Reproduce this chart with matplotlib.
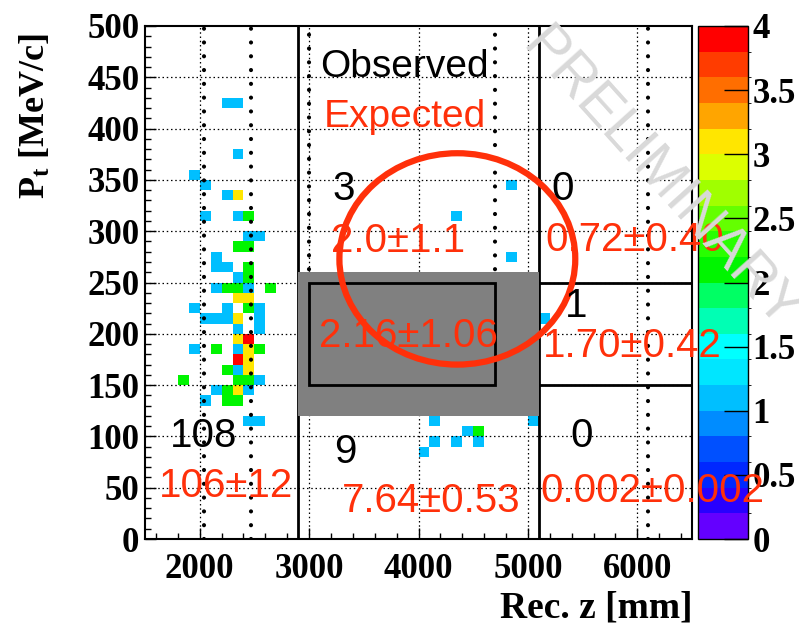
import numpy as np
import matplotlib
matplotlib.use("Agg")
import matplotlib.pyplot as plt
from matplotlib.colors import ListedColormap, BoundaryNorm
from matplotlib.patches import Rectangle, Ellipse

# -----------------------------
# Data: occupied bins (lower bin edge) and event counts
# -----------------------------
cell_z = [2200, 2300, 2300, 1900, 2000, 2200, 2300, 2000, 2300, 2400,
          2400, 2500, 2300, 2400, 2100, 2100, 2200, 2400, 2300, 2400,
          2100, 2200, 2300, 2400, 2600, 2300, 2400, 1900, 2200, 2400,
          2500, 2000, 2100, 2200, 2300, 2500, 2300, 2500, 2300, 2400,
          1900, 2100, 2300, 2400, 2500, 2300, 2400, 2200, 2300, 2400,
          1800, 2300, 2400, 2500, 2100, 2200, 2300, 2400, 2000, 2200,
          2300, 2400, 2500,
          4800, 4300, 4800, 5100, 4100, 5000, 4400, 4500, 4100, 4300,
          4500, 4000]
cell_pt = [420, 420, 370, 350, 340, 330, 330, 310, 310, 310,
           290, 290, 280, 280, 270, 260, 260, 260, 250, 250,
           240, 240, 240, 240, 240, 230, 230, 220, 220, 220,
           220, 210, 210, 210, 210, 210, 200, 200, 190, 190,
           180, 180, 180, 180, 180, 170, 170, 160, 160, 160,
           150, 150, 150, 150, 140, 140, 140, 140, 130, 130,
           130, 110, 110,
           340, 310, 270, 210, 110, 110, 100, 100, 90, 90,
           90, 80]
cell_n = [1, 1, 1, 1, 1, 1, 3, 1, 1, 2,
          1, 1, 2, 2, 1, 1, 1, 2, 1, 2,
          1, 2, 2, 1, 2, 3, 3, 1, 1, 2,
          1, 1, 1, 1, 3, 1, 1, 1, 3, 4,
          1, 2, 1, 3, 2, 4, 3, 2, 1, 3,
          2, 2, 2, 1, 1, 2, 3, 1, 1, 2,
          2, 1, 1,
          1, 1, 1, 1, 1, 1, 1, 2, 1, 1,
          1, 1]

# region numbers: observed (black) and expected (red)
observed = ["108", "3", "9", "0", "1", "0"]
observed_z = [2039, 3318, 3334, 5313, 5445, 5495]
observed_pt = [89.8, 330.5, 74.2, 330.5, 216.5, 89.8]
expected = ["106±12", "2.0±1.1", "2.16±1.06", "7.64±0.53",
            "0.72±0.40", "1.70±0.42", "0.002±0.002"]
expected_z = [2244, 3813, 3911, 4112, 5975, 5952, 6139]
expected_pt = [41.1, 279.8, 187.2, 26.4, 280.8, 177.5, 36.1]

z_edges = np.arange(1500, 6501, 100)
pt_edges = np.arange(0, 501, 10)

# palette, 20 levels from 0 to 4
palette = ["#6400ff", "#2800ff", "#0028ff", "#0050ff", "#008cff",
           "#00bfff", "#00e6ff", "#00ffff", "#00ffb4", "#00ff64",
           "#00f500", "#28ff00", "#64ff00", "#a0ff00", "#dcff00",
           "#ffe600", "#ffa500", "#ff6e00", "#ff3c00", "#ff0000"]

red = "#ff300a"
serif = "Liberation Serif"
sans = "Liberation Sans"

plt.rcParams["mathtext.fontset"] = "custom"
plt.rcParams["mathtext.rm"] = "Liberation Serif:bold"
plt.rcParams["mathtext.bf"] = "Liberation Serif:bold"
plt.rcParams["mathtext.it"] = "Liberation Serif:bold"

fig = plt.figure(figsize=(7.99, 6.26), dpi=100)
ax = fig.add_axes([145 / 799, 1 - 539 / 626, 547 / 799, 513 / 626])
cax = fig.add_axes([698 / 799, 1 - 539 / 626, 50 / 799, 513 / 626])
ax.set_zorder(3)

# -----------------------------
# 2D histogram
# -----------------------------
h, _, _ = np.histogram2d(np.array(cell_z) + 50, np.array(cell_pt) + 5,
                         bins=[z_edges, pt_edges], weights=cell_n)
h = np.ma.masked_equal(h.T, 0)

cmap = ListedColormap(palette)
cmap.set_over(palette[-1])
norm = BoundaryNorm(np.linspace(0, 4, 21), 20)
mesh = ax.pcolormesh(z_edges, pt_edges, h, cmap=cmap, norm=norm, zorder=1)

ax.set_xlim(1500, 6500)
ax.set_ylim(0, 500)

# grid
for z in range(2000, 6001, 1000):
    ax.plot([z, z], [0, 500], color="black", lw=0.9, ls=(0, (1.2, 2.2)), zorder=2)
for pt in range(50, 451, 50):
    ax.plot([1500, 6500], [pt, pt], color="black", lw=0.9, ls=(0, (1.2, 2.2)), zorder=2)

# dotted boundaries
dots = dict(color="black", lw=3, ls=(0, (0.01, 3.3)), dash_capstyle="round", zorder=3)
for z in [2040, 2470, 6100]:
    ax.plot([z, z], [0, 500], **dots)
for z in [3000, 4700]:
    ax.plot([z, z], [250, 500], **dots)

# solid boundaries
solid = dict(color="black", lw=2, zorder=3)
ax.plot([2900, 2900], [0, 500], **solid)
ax.plot([5100, 5100], [0, 500], **solid)
ax.plot([5100, 6500], [250, 250], **solid)
ax.plot([5100, 6500], [150, 150], **solid)

# blinded box and signal region
ax.add_patch(Rectangle((2900, 120), 2200, 140, facecolor="#808080", edgecolor="none", zorder=4))
ax.add_patch(Rectangle((3000, 150), 1700, 100, facecolor="none", edgecolor="black", lw=2, zorder=5))
ax.add_patch(Ellipse((4355, 273), 2 * 1078, 2 * 103, facecolor="none", edgecolor=red, lw=4.5, zorder=6))

# numbers
for s, z, pt in zip(observed, observed_z, observed_pt):
    ax.text(z, pt, s, color="black", fontsize=29, family=sans, ha="center", va="baseline",
            zorder=7, clip_on=False)
for s, z, pt in zip(expected, expected_z, expected_pt):
    ax.text(z, pt, s, color=red, fontsize=29, family=sans, ha="center", va="baseline",
            zorder=7, clip_on=False)
ax.text(3874, 450.4, "Observed", color="black", fontsize=28, family=sans, ha="center", va="baseline", zorder=7)
ax.text(3874, 401.7, "Expected", color=red, fontsize=28, family=sans, ha="center", va="baseline", zorder=7)

# axes style
ax.set_xticks(range(2000, 6001, 1000))
ax.set_xticks(range(1600, 6500, 200), minor=True)
ax.set_yticks(range(0, 501, 50))
ax.set_yticks(range(0, 501, 10), minor=True)
ax.tick_params(which="both", direction="in", top=False, right=False)
ax.tick_params(which="major", length=8, width=1)
ax.tick_params(which="minor", length=4, width=1)
ax.tick_params(axis="x", pad=10)
ax.tick_params(axis="y", pad=4)
for lab in ax.get_xticklabels() + ax.get_yticklabels():
    lab.set_fontfamily(serif)
    lab.set_fontweight("bold")
    lab.set_fontsize(25)
for sp in ax.spines.values():
    sp.set_linewidth(1.5)

# colorbar
cb = fig.colorbar(mesh, cax=cax, ticks=np.arange(0, 4.01, 0.5))
cb.ax.set_yticklabels(["0", "0.5", "1", "1.5", "2", "2.5", "3", "3.5", "4"])
cb.ax.tick_params(direction="in", length=17, width=1, pad=3)
for lab in cb.ax.get_yticklabels():
    lab.set_fontfamily(serif)
    lab.set_fontweight("bold")
    lab.set_fontsize(25)
cb.outline.set_linewidth(1)

# axis titles
fig.text(693 / 799, 1 - 618 / 626, "Rec. z [mm]", fontsize=27, family=serif, fontweight="bold",
         ha="right", va="baseline")
fig.text(45 / 799, 1 - 33 / 626, r"$\mathbf{P}_{\mathbf{t}}$ [MeV/c]", fontsize=26, family=serif,
         fontweight="bold", rotation=90, rotation_mode="anchor", ha="right", va="baseline")

fig.text(660 / 799, 1 - 180 / 626, "PRELIMINARY", fontsize=41, family=sans, color="#d9d9d9",
         rotation=-48, rotation_mode="anchor", ha="center", va="center", zorder=10)

fig.savefig("out.png", dpi=100)
